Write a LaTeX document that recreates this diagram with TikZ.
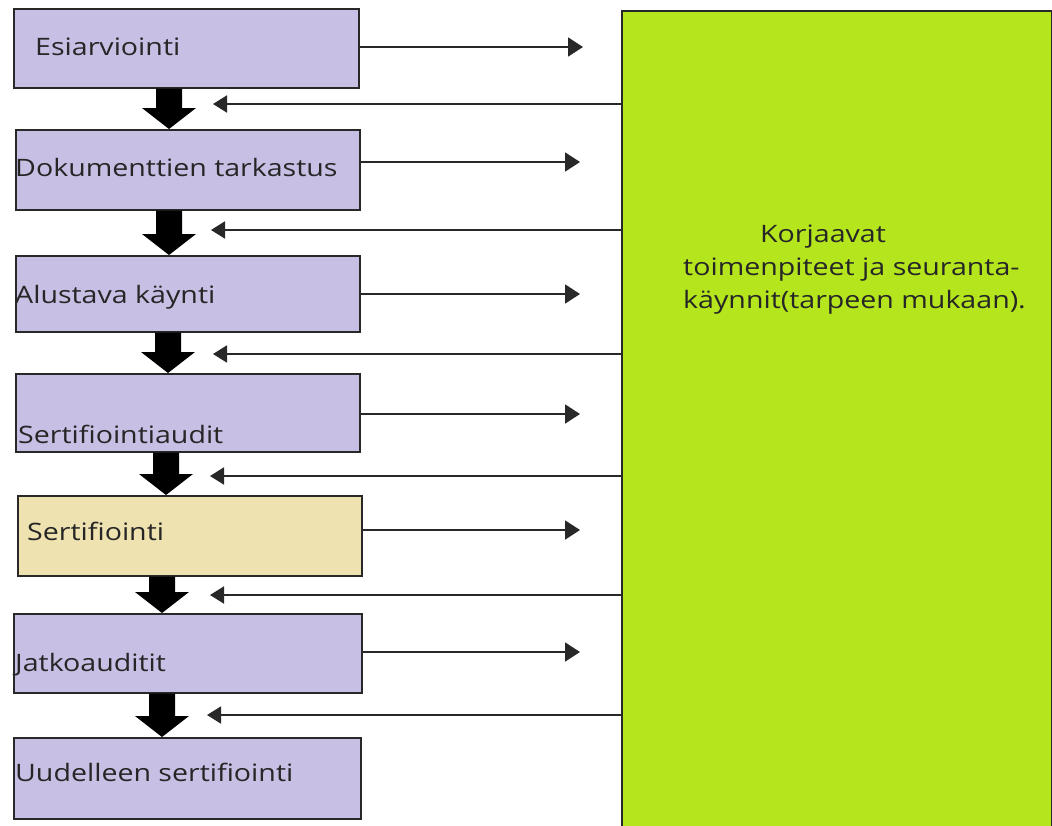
\documentclass[tikz,border=0pt]{standalone}
\usepackage{fontspec}
\setmainfont{Open Sans}[FakeStretch=1.19]
\usetikzlibrary{arrows.meta,calc}
\definecolor{lav}{RGB}{200,191,228}
\definecolor{sand}{RGB}{238,226,176}
\definecolor{lime}{RGB}{181,230,29}
\definecolor{edge}{RGB}{40,40,40}
\newcommand\blockarr[3]{%
  \fill[black] let \p1=(#1.south), \p2=(#2.north) in
    ({#3pt-13pt},\y1) -- ({#3pt+13pt},\y1) -- ({#3pt+13pt},{\y2+21pt}) --
    ({#3pt+27pt},{\y2+21pt}) -- ({#3pt},\y2) -- ({#3pt-27pt},{\y2+21pt}) --
    ({#3pt-13pt},{\y2+21pt}) -- cycle;}
\begin{document}
\begin{tikzpicture}[x=1pt,y=-1pt,
  box/.style={draw=edge, line width=1.6pt, inner sep=0pt, anchor=north west},
  lbl/.style={anchor=base west, inner sep=0pt, font=\fontsize{24}{28}\selectfont, text=black!85},
  fwd/.style={draw=edge, line width=1.8pt, -{Triangle[length=15pt,width=19pt]}},
  back/.style={draw=edge, line width=1.8pt, {Triangle[length=14pt,width=17pt]}-}]
\useasboundingbox (0,0) rectangle (1052,825);
\clip (0,0) rectangle (1052,825);
\fill[white] (0,0) rectangle (1052,825);
% green box
\node[box, fill=lime, minimum width=430pt, minimum height=830pt] (g) at (621,10) {};
\node[lbl] (gt1) at (760,242) {Korjaavat};
\node[lbl] (gt2) at (683,275) {toimenpiteet ja seuranta-};
\node[lbl] (gt3) at (683,308) {käynnit(tarpeen mukaan).};
% step boxes
\node[box, fill=lav, minimum width=345pt, minimum height=79pt] (b1) at (13,8) {};
\node[box, fill=lav, minimum width=344pt, minimum height=80pt] (b2) at (15,129) {};
\node[box, fill=lav, minimum width=344pt, minimum height=76pt] (b3) at (15,255) {};
\node[box, fill=lav, minimum width=344pt, minimum height=78pt] (b4) at (15,373) {};
\node[box, fill=sand, minimum width=344pt, minimum height=80pt] (b5) at (17,495) {};
\node[box, fill=lav, minimum width=348pt, minimum height=79pt] (b6) at (13,613) {};
\node[box, fill=lav, minimum width=347pt, minimum height=81pt] (b7) at (13,737) {};
% labels
\node[lbl] (t1) at (35,55) {Esiarviointi};
\node[lbl] (t2) at (15,176) {Dokumenttien tarkastus};
\node[lbl] (t3) at (15,303) {Alustava käynti};
\node[lbl] (t4) at (18,443) {Sertifiointiaudit};
\node[lbl] (t5) at (27,540) {Sertifiointi};
\node[lbl] (t6) at (15,671) {Jatkoauditit};
\node[lbl] (t7) at (15,781) {Uudelleen sertifiointi};
% block arrows
\blockarr{b1}{b2}{169}
\blockarr{b2}{b3}{169}
\blockarr{b3}{b4}{168}
\blockarr{b4}{b5}{166}
\blockarr{b5}{b6}{162}
\blockarr{b6}{b7}{162}
% forward arrow tips
\coordinate (r1) at (583,47);
\coordinate (r2) at (580,162);
\coordinate (r3) at (580,294);
\coordinate (r4) at (580,414);
\coordinate (r5) at (580,530);
\coordinate (r6) at (580,652);
\draw[fwd] (b1.east |- r1) -- (r1);
\draw[fwd] (b2.east |- r2) -- (r2);
\draw[fwd] (b3.east |- r3) -- (r3);
\draw[fwd] (b4.east |- r4) -- (r4);
\draw[fwd] (b5.east |- r5) -- (r5);
\draw[fwd] (b6.east |- r6) -- (r6);
% feedback arrow tips
\coordinate (f1) at (213,104);
\coordinate (f2) at (211,230);
\coordinate (f3) at (213,354);
\coordinate (f4) at (210,476);
\coordinate (f5) at (210,595);
\coordinate (f6) at (207,715);
\draw[back] (f1) -- (f1 -| g.west);
\draw[back] (f2) -- (f2 -| g.west);
\draw[back] (f3) -- (f3 -| g.west);
\draw[back] (f4) -- (f4 -| g.west);
\draw[back] (f5) -- (f5 -| g.west);
\draw[back] (f6) -- (f6 -| g.west);
\end{tikzpicture}
\end{document}
